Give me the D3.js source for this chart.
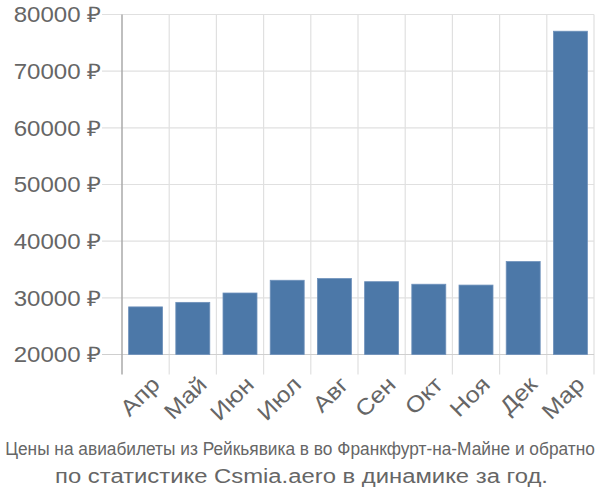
<!DOCTYPE html>
<html><head><meta charset="utf-8">
<script src="https://cdn.jsdelivr.net/npm/d3@7"></script>
<style>body{margin:0;background:#fff}svg{display:block}</style>
</head><body>
<script>
const categories = ["Апр","Май","Июн","Июл","Авг","Сен","Окт","Ноя","Дек","Мар"];
const prices = [28400, 29200, 30850, 33100, 33400, 32850, 32400, 32250, 36400, 77050];
const yTicks = [20000, 30000, 40000, 50000, 60000, 70000, 80000];
const titleLines = ["Цены на авиабилеты из Рейкьявика в во Франкфурт-на-Майне и обратно",
                    "по статистике Csmia.aero в динамике за год."];

const W = 600, H = 500;
const m = {left: 122, right: 6, top: 14.5, bottom: 145.5};
const svg = d3.select("body").append("svg").attr("width", W).attr("height", H);
const font = "Liberation Sans, Arial, sans-serif";
const sx = 1.12;

const x = d3.scaleBand().domain(categories).range([m.left, W - m.right]).paddingInner(0.28).paddingOuter(0.14);
const y = d3.scaleLinear().domain([20000, 80000]).range([H - m.bottom, m.top]);

const bounds = d3.range(categories.length + 1).map(i => m.left + i * (W - m.left - m.right) / categories.length);
svg.append("g").selectAll("line").data(bounds.slice(1)).join("line")
  .attr("x1", d => d).attr("x2", d => d)
  .attr("y1", m.top).attr("y2", H - m.bottom + 20)
  .attr("stroke", "#e0e0e0").attr("stroke-width", 1.2);

svg.append("g").selectAll("line").data(yTicks).join("line")
  .attr("x1", m.left - 20).attr("x2", W - m.right)
  .attr("y1", d => y(d)).attr("y2", d => y(d))
  .attr("stroke", d => d === 20000 ? "#cfcfcf" : "#e0e0e0").attr("stroke-width", 1.2);

svg.append("line").attr("x1", m.left).attr("x2", m.left)
  .attr("y1", m.top).attr("y2", H - m.bottom + 20)
  .attr("stroke", "#aaaaaa").attr("stroke-width", 1.5);

svg.append("g").selectAll("text").data(yTicks).join("text")
  .attr("transform", d => `translate(${m.left - 21},${y(d)}) scale(${sx},1)`)
  .attr("dy", "0.36em")
  .attr("text-anchor", "end").attr("font-family", font).attr("font-size", 21.5)
  .attr("fill", "#666").text(d => d + " ₽");

svg.append("g").selectAll("rect").data(prices).join("rect")
  .attr("x", (d, i) => x(categories[i])).attr("width", x.bandwidth())
  .attr("y", d => y(d)).attr("height", d => y(20000) - y(d))
  .attr("fill", "#4c78a8").attr("stroke", "#6e91bb").attr("stroke-width", 0.8);

svg.append("g").selectAll("text").data(categories).join("text")
  .attr("transform", d => `translate(${x(d) + x.bandwidth() / 2 + 4},${H - m.bottom + 20}) rotate(-45) scale(${sx},1)`)
  .attr("text-anchor", "end").attr("dy", "0.72em").attr("font-family", font).attr("font-size", 22.5)
  .attr("fill", "#666").text(d => d);

function fitText(str, cx, cy, size, width) {
  const t = svg.append("text").attr("text-anchor", "middle")
    .attr("font-family", font).attr("font-size", size).attr("fill", "#666").text(str);
  const L = t.node().getComputedTextLength();
  t.attr("transform", `translate(${cx},${cy}) scale(${width / L},1)`);
}
fitText(titleLines[0], 300, 455, 17.5, 590);
fitText(titleLines[1], 301.5, 482.5, 20, 493);
</script>
</body></html>
